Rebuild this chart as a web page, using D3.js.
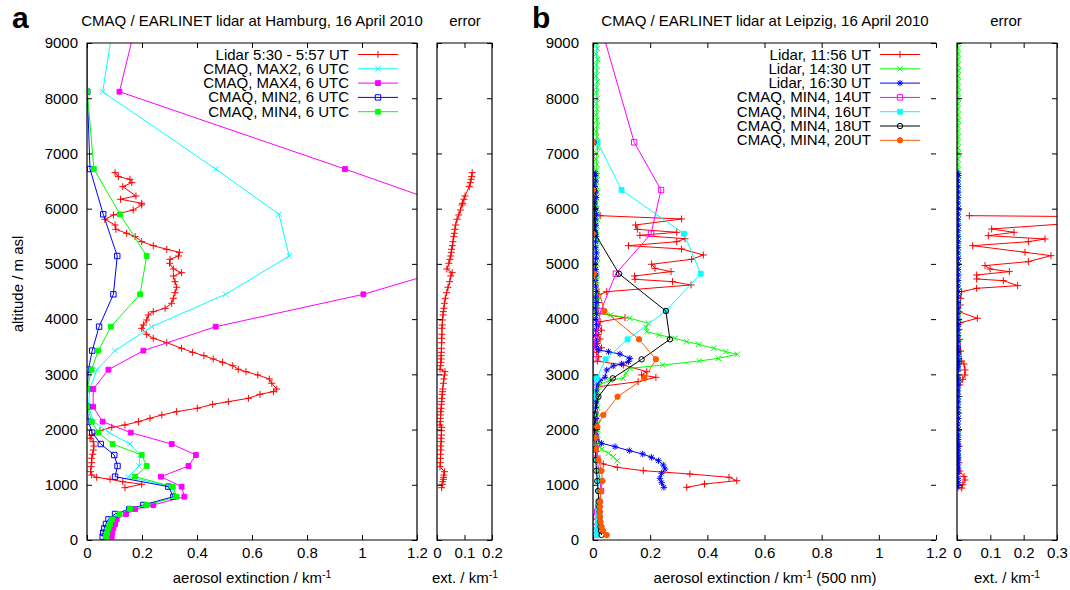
<!DOCTYPE html>
<html><head><meta charset="utf-8">
<script src="https://cdn.jsdelivr.net/npm/d3@7"></script>
<style>body{margin:0;background:#fff}svg{display:block}text{font-family:"Liberation Sans",Arial,Helvetica,sans-serif}</style>
</head><body><svg id="c" width="1070" height="590"></svg>
<script>
// ---------------- DATA ----------------
const yTicks = [0,1000,2000,3000,4000,5000,6000,7000,8000,9000];
const xTicksMain = [0,0.2,0.4,0.6,0.8,1,1.2];
const xTicksErrA = [0,0.1,0.2];
const xTicksErrB = [0,0.1,0.2,0.3];

// Hamburg: lidar [altitude m, extinction, error]
const lidarHamburg = [
[6652,0.102,0.128],[6580,0.114,0.126],[6532,0.156,0.124],[6471,0.163,0.121],[6399,0.130,0.117],[6230,0.178,0.102],[6170,0.122,0.098],[6097,0.199,0.093],[6067,0.199,0.091],[5976,0.168,0.085],[5886,0.096,0.079],[5808,0.065,0.073],[5704,0.102,0.068],[5626,0.105,0.065],[5554,0.144,0.063],[5493,0.175,0.061],[5402,0.199,0.058],[5330,0.241,0.056],[5264,0.290,0.053],[5210,0.336,0.052],[5143,0.333,0.050],[5083,0.302,0.047],[5011,0.300,0.043],[4908,0.314,0.036],[4841,0.344,0.055],[4781,0.314,0.050],[4678,0.320,0.046],[4577,0.326,0.040],[4479,0.320,0.035],[4377,0.314,0.030],[4287,0.308,0.027],[4196,0.284,0.025],[4135,0.241,0.023],[4075,0.223,0.022],[3984,0.217,0.020],[3894,0.205,0.019],[3834,0.199,0.018],[3725,0.217,0.018],[3653,0.241,0.017],[3573,0.290,0.017],[3472,0.344,0.016],[3399,0.384,0.016],[3338,0.425,0.015],[3278,0.459,0.015],[3218,0.493,0.014],[3156,0.530,0.013],[3091,0.550,0.011],[3048,0.578,0.029],[2988,0.621,0.027],[2916,0.663,0.025],[2838,0.672,0.023],[2734,0.690,0.021],[2686,0.678,0.020],[2638,0.629,0.019],[2566,0.587,0.018],[2505,0.514,0.017],[2457,0.457,0.016],[2385,0.401,0.015],[2324,0.326,0.014],[2264,0.272,0.013],[2204,0.229,0.013],[2143,0.187,0.012],[2083,0.138,0.011],[2041,0.090,0.017],[1979,0.047,0.016],[1901,0.017,0.016],[1842,0.011,0.015],[1780,0.023,0.015],[1702,0.025,0.014],[1630,0.023,0.014],[1552,0.021,0.013],[1480,0.017,0.013],[1400,0.017,0.012],[1328,0.015,0.011],[1237,0.013,0.027],[1177,0.017,0.025],[1135,0.035,0.024],[1099,0.084,0.023],[1056,0.130,0.021],[1009,0.199,0.019],[947,0.138,0.017]
];

// Hamburg CMAQ model levels (m) and values
const levelsA = [60,133,211,290,374,471,561,634,784,966,1147,1340,1539,1738,1944,2143,2414,2734,3085,3429,3863,4449,5143,5898,6718,8118,9800];
const cmaqMax2A = [0.065,0.068,0.072,0.078,0.084,0.110,0.157,0.210,0.322,0.305,0.150,0.189,0.193,0.156,0.081,0.025,0.005,0.010,0.036,0.102,0.235,0.504,0.735,0.698,0.468,0.057,0.110];
const cmaqMax4A = [0.090,0.092,0.096,0.102,0.108,0.142,0.175,0.241,0.354,0.344,0.269,0.369,0.396,0.308,0.159,0.057,0.022,0.023,0.078,0.205,0.468,1.005,1.475,1.405,0.938,0.118,0.200];
const cmaqMin2A = [0.057,0.059,0.063,0.069,0.078,0.102,0.154,0.205,0.314,0.296,0.102,0.111,0.099,0.050,0.019,0.005,0.001,0.001,0.005,0.019,0.044,0.096,0.110,0.059,0.011,0.001,0.001];
const cmaqMin4A = [0.069,0.074,0.078,0.084,0.092,0.118,0.156,0.217,0.326,0.312,0.175,0.217,0.199,0.093,0.041,0.017,0.001,0.001,0.017,0.041,0.087,0.193,0.217,0.120,0.025,0.001,0.001];

// Leipzig lidar 11:56 [altitude, extinction]
const lidarL1156 = [
[5873,0.025],[5813,0.310],[5704,0.149],[5626,0.155],[5572,0.293],[5517,0.164],[5456,0.322],[5402,0.293],[5330,0.124],[5270,0.310],[5161,0.386],[5083,0.345],[4993,0.205],[4920,0.217],[4860,0.273],[4781,0.145],[4721,0.147],[4678,0.278],[4618,0.343],[4497,0.048],[4440,0.020],[4380,0.015],[4300,0.020],[4200,0.012],[4110,0.015],[4026,0.112],[3953,0.025],[3880,0.020],[3800,0.030],[3720,0.018],[3640,0.025],[3560,0.015],[3480,0.030],[3400,0.012],[3320,0.020],[3240,0.015],[3169,0.106],[3048,0.188],[2988,0.170],[2946,0.220],[2867,0.158],[2776,0.019],[2700,0.010],[2600,0.012],[2500,0.008],[2400,0.010],[2300,0.008],[2200,0.010],[2100,0.008],[2000,0.012],[1900,0.010],[1800,0.012],[1700,0.015],[1600,0.012],[1520,0.015],[1449,0.015],[1376,0.036],[1316,0.085],[1255,0.176],[1195,0.339],[1135,0.476],[1074,0.503],[1014,0.390],[954,0.328]
];
// Leipzig lidar 11:56 error [altitude, error]
const errL1156 = [
[5873,0.037],[5845,0.600],[5632,0.104],[5572,0.171],[5511,0.094],[5451,0.264],[5402,0.214],[5330,0.047],[5210,0.204],[5149,0.282],[5041,0.214],[4969,0.084],[4908,0.099],[4860,0.157],[4799,0.059],[4727,0.059],[4696,0.139],[4606,0.182],[4558,0.059],[4497,0.014],[4377,0.011],[4256,0.010],[4135,0.006],[4015,0.061],[3935,0.011],[3813,0.006],[3632,0.008],[3421,0.011],[3240,0.014],[3187,0.021],[3079,0.024],[2988,0.024],[2910,0.017],[2807,0.008],[2600,0.006],[2300,0.005],[2000,0.005],[1700,0.006],[1400,0.006],[1250,0.008],[1147,0.021],[1087,0.024],[1000,0.017],[940,0.014]
];
// Leipzig lidar 14:30 [altitude, extinction, error]
const lidarL1430 = [
[9000,0.012,0.003],[8900,0.015,0.003],[8800,0.010,0.004],[8700,0.016,0.003],[8600,0.012,0.003],[8500,0.014,0.004],[8400,0.010,0.003],[8300,0.015,0.003],[8200,0.013,0.004],[8100,0.011,0.003],[8000,0.016,0.003],[7900,0.012,0.004],[7800,0.014,0.003],[7700,0.010,0.003],[7600,0.013,0.004],[7500,0.015,0.003],[7400,0.011,0.003],[7300,0.014,0.004],[7200,0.012,0.003],[7100,0.016,0.003],[7000,0.013,0.004],[6900,0.010,0.003],[6800,0.014,0.003],[6700,0.012,0.004],[6600,0.015,0.003],[6500,0.011,0.003],[6400,0.013,0.004],[6300,0.016,0.003],[6200,0.012,0.003],[6100,0.010,0.004],[6000,0.014,0.003],[5900,0.013,0.003],[5800,0.016,0.004],[5700,0.012,0.003],[5600,0.014,0.003],[5500,0.011,0.004],[5400,0.015,0.003],[5300,0.013,0.003],[5200,0.012,0.004],[5100,0.016,0.003],[5000,0.014,0.003],[4900,0.011,0.004],[4800,0.015,0.003],[4700,0.013,0.003],[4600,0.012,0.004],[4500,0.016,0.003],[4400,0.014,0.003],[4300,0.012,0.004],[4200,0.015,0.003],[4117,0.013,0.003],[4075,0.062,0.004],[4015,0.129,0.003],[3924,0.194,0.003],[3850,0.186,0.004],[3773,0.188,0.003],[3712,0.232,0.003],[3652,0.287,0.004],[3592,0.328,0.003],[3544,0.369,0.003],[3472,0.423,0.004],[3410,0.465,0.003],[3363,0.505,0.003],[3290,0.439,0.004],[3242,0.372,0.003],[3169,0.244,0.003],[3109,0.129,0.004],[3019,0.115,0.003],[2928,0.106,0.003],[2897,0.059,0.004],[2807,0.024,0.003],[2700,0.018,0.003],[2600,0.016,0.004],[2500,0.015,0.003],[2400,0.017,0.003],[2300,0.014,0.004],[2200,0.016,0.003],[2100,0.015,0.003],[2000,0.017,0.004],[1900,0.016,0.003],[1820,0.018,0.003],[1751,0.019,0.004],[1643,0.030,0.003],[1570,0.054,0.003],[1509,0.071,0.004],[1436,0.085,0.003]
];
// Leipzig lidar 16:30 [altitude, extinction, error]
const lidarL1630 = [
[6640,0.008,0.003],[6600,0.008,0.004],[6500,0.010,0.003],[6400,0.006,0.003],[6300,0.009,0.004],[6200,0.011,0.003],[6100,0.007,0.003],[6000,0.009,0.004],[5900,0.012,0.003],[5800,0.008,0.003],[5700,0.010,0.004],[5600,0.007,0.003],[5500,0.011,0.003],[5400,0.009,0.004],[5300,0.008,0.003],[5200,0.012,0.003],[5100,0.010,0.004],[5000,0.007,0.003],[4900,0.009,0.003],[4800,0.011,0.004],[4700,0.008,0.003],[4600,0.010,0.003],[4500,0.012,0.004],[4400,0.009,0.003],[4300,0.011,0.003],[4200,0.008,0.004],[4100,0.012,0.003],[4000,0.010,0.003],[3900,0.013,0.004],[3800,0.011,0.003],[3700,0.009,0.003],[3600,0.012,0.004],[3500,0.010,0.003],[3441,0.019,0.003],[3410,0.054,0.004],[3368,0.094,0.003],[3290,0.129,0.003],[3229,0.124,0.004],[3187,0.100,0.003],[3151,0.071,0.003],[3079,0.048,0.004],[2946,0.042,0.003],[2885,0.024,0.003],[2807,0.013,0.004],[2700,0.010,0.003],[2600,0.008,0.003],[2500,0.011,0.004],[2400,0.009,0.003],[2300,0.008,0.003],[2200,0.010,0.004],[2100,0.009,0.003],[2000,0.011,0.003],[1900,0.010,0.004],[1820,0.012,0.003],[1751,0.030,0.003],[1690,0.077,0.004],[1618,0.127,0.003],[1557,0.174,0.003],[1497,0.205,0.004],[1436,0.229,0.003],[1358,0.246,0.003],[1286,0.252,0.004],[1208,0.240,0.003],[1117,0.234,0.003],[1038,0.240,0.004],[954,0.248,0.003]
];

// Leipzig CMAQ model levels (m) and values
const levelsB = [91,168,241,331,422,512,603,694,887,1068,1255,1449,1643,1853,2052,2264,2595,2928,3272,3634,4147,4822,5547,6338,7202,9800];
const cmaq14B = [0.010,0.010,0.010,0.010,0.012,0.015,0.018,0.022,0.028,0.025,0.020,0.015,0.010,0.008,0.005,0.005,0.001,0.000,0.001,0.007,0.027,0.080,0.203,0.238,0.144,0.000];
const cmaq16B = [0.015,0.015,0.016,0.017,0.018,0.018,0.019,0.019,0.020,0.019,0.017,0.012,0.008,0.005,0.003,0.003,0.003,0.013,0.044,0.121,0.255,0.377,0.318,0.100,0.016,0.012];
const cmaq18B = [0.030,0.028,0.026,0.025,0.024,0.023,0.022,0.020,0.018,0.015,0.012,0.010,0.008,0.006,0.005,0.004,0.019,0.069,0.170,0.269,0.255,0.091,0.007,0.003,0.002,0.002];
const cmaq20B = [0.048,0.035,0.030,0.026,0.024,0.024,0.024,0.025,0.027,0.033,0.030,0.019,0.010,0.007,0.015,0.036,0.086,0.180,0.220,0.161,0.040,0.003,0.000,0.000,0.000,0.002];

const legendA = ["Lidar 5:30 - 5:57 UT","CMAQ, MAX2, 6 UTC","CMAQ, MAX4, 6 UTC","CMAQ, MIN2, 6 UTC","CMAQ, MIN4, 6 UTC"];
const legendB = ["Lidar, 11:56 UT","Lidar, 14:30 UT","Lidar, 16:30 UT","CMAQ, MIN4, 14UT","CMAQ, MIN4, 16UT","CMAQ, MIN4, 18UT","CMAQ, MIN4, 20UT"];

// ---------------- DRAWING ----------------
const svg = d3.select("#c");
const FONT = '"Liberation Sans", Arial, Helvetica, sans-serif';
const FS = 15;
const y = d3.scaleLinear().domain([0,9000]).range([540,43]);

const colors = {red:"#ff0000",green:"#00ff00",blue:"#0000ff",magenta:"#ff00ff",cyan:"#00ffff",black:"#000000",orange:"#ff5a00"};

function markerPath(type){
  const p = d3.path();
  if(type==="plus"){const s=3.5;p.moveTo(-s,0);p.lineTo(s,0);p.moveTo(0,-s);p.lineTo(0,s);}
  else if(type==="cross"){const s=2.7;p.moveTo(-s,-s);p.lineTo(s,s);p.moveTo(-s,s);p.lineTo(s,-s);}
  else if(type==="star"){const s=3.2,t=2.3;p.moveTo(-s,0);p.lineTo(s,0);p.moveTo(0,-s);p.lineTo(0,s);p.moveTo(-t,-t);p.lineTo(t,t);p.moveTo(-t,t);p.lineTo(t,-t);}
  else if(type==="sqOpen"||type==="sqFill"){const s=type==="sqOpen"?2.7:2.4;p.rect(-s,-s,2*s,2*s);}
  else if(type==="circOpen"||type==="circFill"){const r=2.7;p.moveTo(r,0);p.arc(0,0,r,0,2*Math.PI);p.closePath();}
  return p.toString();
}

let clipN=0;
function makeClip(x0,x1){
  const id="clip"+(clipN++);
  svg.append("clipPath").attr("id",id).append("rect").attr("x",x0).attr("y",43).attr("width",x1-x0).attr("height",497);
  return id;
}

function drawSeries(g, data, x, ax, vx, color, marker){
  const line = d3.line().x(d=>x(d[vx])).y(d=>y(d[ax]));
  g.append("path").datum(data).attr("d",line).attr("fill","none").attr("stroke",color).attr("stroke-width",1);
  g.selectAll(null).data(data).enter().append("path")
    .attr("transform",d=>`translate(${x(d[vx])},${y(d[ax])})`)
    .attr("d",markerPath(marker))
    .attr("fill",marker.endsWith("Fill")?color:"none")
    .attr("stroke",color).attr("stroke-width",1);
}

function frame(x, xTicks, opts){
  const [x0,x1] = x.range();
  const g = svg.append("g");
  const styleAxis = sel=>{sel.select(".domain").remove();sel.attr("font-size",FS).attr("font-family",FONT);sel.selectAll("line").attr("stroke","#000");sel.selectAll("text").attr("fill","#000");};
  g.append("g").attr("transform",`translate(${x0},0)`)
    .call(d3.axisLeft(y).tickValues(yTicks).tickSize(-5).tickPadding(opts.yPad||9).tickFormat(opts.yLabels?d3.format("d"):""))
    .call(styleAxis);
  g.append("g").attr("transform",`translate(${x1},0)`)
    .call(d3.axisRight(y).tickValues(yTicks).tickSize(-5).tickFormat(""))
    .call(styleAxis);
  g.append("g").attr("transform",`translate(0,540)`)
    .call(d3.axisBottom(x).tickValues(xTicks).tickSize(-5).tickPadding(7).tickFormat(d3.format("~g")))
    .call(styleAxis);
  g.append("g").attr("transform",`translate(0,43)`)
    .call(d3.axisTop(x).tickValues(xTicks).tickSize(-5).tickFormat(""))
    .call(styleAxis);
  const b = d3.path();
  b.moveTo(x1,43);b.lineTo(x0,43);b.lineTo(x0,540);b.lineTo(x1,540);
  if(opts.right!==false){b.lineTo(x1,43);}
  g.append("path").attr("d",b.toString()).attr("fill","none").attr("stroke","#000").attr("stroke-width",1.2);
}

function txt(x,yy,s,opts={}){
  const t = svg.append("text").attr("x",x).attr("y",yy).attr("font-size",opts.size||FS).attr("font-family",FONT)
    .attr("text-anchor",opts.anchor||"middle").attr("fill","#000");
  if(opts.bold) t.attr("font-weight","bold");
  if(opts.rotate) t.attr("transform",`rotate(-90,${x},${yy})`);
  return t.text(s);
}
function unitLabel(x,yy,pre,post){
  const t = svg.append("text").attr("x",x).attr("y",yy).attr("font-size",FS).attr("font-family",FONT).attr("text-anchor","middle").attr("fill","#000");
  t.append("tspan").text(pre);
  t.append("tspan").attr("dy",-5).attr("font-size",10.5).text("-1");
  if(post) t.append("tspan").attr("dy",5).attr("font-size",FS).text(post);
}

function legend(entries, styles, xr, y0, dy){
  entries.forEach((s,i)=>{
    const yy = y0 + i*dy;
    txt(xr, yy+5, s, {anchor:"end"});
    const st = styles[i];
    svg.append("line").attr("x1",xr+9).attr("x2",xr+49).attr("y1",yy).attr("y2",yy).attr("stroke",st[0]).attr("stroke-width",1);
    svg.append("path").attr("transform",`translate(${xr+29},${yy})`).attr("d",markerPath(st[1]))
      .attr("fill",st[1].endsWith("Fill")?st[0]:"none").attr("stroke",st[0]);
  });
}

// ---------- Scales ----------
const xA = d3.scaleLinear().domain([0,1.2]).range([87,417]);
const xAe = d3.scaleLinear().domain([0,0.2]).range([437,492]);
const xB = d3.scaleLinear().domain([0,1.2]).range([593,936]);
const xBe = d3.scaleLinear().domain([0,0.3]).range([957,1057]);

const pairs = (lv, vals) => lv.map((a,i)=>[a, vals[i]]);

// ---------- Panel a ----------
{
  const g = svg.append("g").attr("clip-path",`url(#${makeClip(87,417)})`);
  drawSeries(g, lidarHamburg, xA, 0, 1, colors.red, "plus");
  drawSeries(g, pairs(levelsA,cmaqMax2A), xA, 0, 1, colors.cyan, "cross");
  drawSeries(g, pairs(levelsA,cmaqMax4A), xA, 0, 1, colors.magenta, "sqFill");
  drawSeries(g, pairs(levelsA,cmaqMin2A), xA, 0, 1, colors.blue, "sqOpen");
  drawSeries(g, pairs(levelsA,cmaqMin4A), xA, 0, 1, colors.green, "sqFill");
  frame(xA, xTicksMain, {yLabels:true, yPad:9});
  legend(legendA, [[colors.red,"plus"],[colors.cyan,"cross"],[colors.magenta,"sqFill"],[colors.blue,"sqOpen"],[colors.green,"sqFill"]], 349, 54.5, 14.3);

  const ge = svg.append("g").attr("clip-path",`url(#${makeClip(437,492)})`);
  drawSeries(ge, lidarHamburg, xAe, 0, 2, colors.red, "plus");
  frame(xAe, xTicksErrA, {yLabels:false});
}

// ---------- Panel b ----------
{
  const g = svg.append("g").attr("clip-path",`url(#${makeClip(593,936)})`);
  drawSeries(g, lidarL1156, xB, 0, 1, colors.red, "plus");
  drawSeries(g, lidarL1430, xB, 0, 1, colors.green, "cross");
  drawSeries(g, lidarL1630, xB, 0, 1, colors.blue, "star");
  drawSeries(g, pairs(levelsB,cmaq14B), xB, 0, 1, colors.magenta, "sqOpen");
  drawSeries(g, pairs(levelsB,cmaq16B), xB, 0, 1, colors.cyan, "sqFill");
  drawSeries(g, pairs(levelsB,cmaq18B), xB, 0, 1, colors.black, "circOpen");
  drawSeries(g, pairs(levelsB,cmaq20B), xB, 0, 1, colors.orange, "circFill");
  frame(xB, xTicksMain, {yLabels:true, yPad:14, right:false});
  legend(legendB, [[colors.red,"plus"],[colors.green,"cross"],[colors.blue,"star"],[colors.magenta,"sqOpen"],[colors.cyan,"sqFill"],[colors.black,"circOpen"],[colors.orange,"circFill"]], 871, 54.5, 14.3);

  const ge = svg.append("g").attr("clip-path",`url(#${makeClip(957,1057)})`);
  drawSeries(ge, errL1156, xBe, 0, 1, colors.red, "plus");
  drawSeries(ge, lidarL1430, xBe, 0, 2, colors.green, "cross");
  drawSeries(ge, lidarL1630, xBe, 0, 2, colors.blue, "star");
  frame(xBe, xTicksErrB, {yLabels:false});
}

// ---------- Titles and labels ----------
txt(12, 28, "a", {anchor:"start", size:30, bold:true});
txt(532, 28, "b", {anchor:"start", size:30, bold:true});
txt(252, 26, "CMAQ / EARLINET lidar at Hamburg, 16 April 2010");
txt(465, 26, "error");
txt(765, 26, "CMAQ / EARLINET lidar at Leipzig, 16 April 2010");
txt(1006, 26, "error");
txt(23, 284, "altitude / m asl", {rotate:true});
unitLabel(252, 583, "aerosol extinction / km");
unitLabel(465, 583, "ext. / km");
unitLabel(765, 583, "aerosol extinction / km", " (500 nm)");
unitLabel(1007, 583, "ext. / km");
</script></body></html>
